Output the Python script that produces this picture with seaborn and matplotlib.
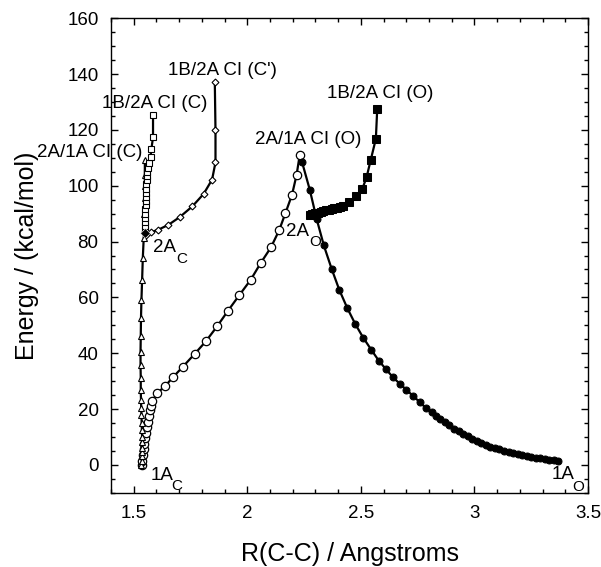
import numpy as np
import pandas as pd
import seaborn as sns
import matplotlib.pyplot as plt
from matplotlib.ticker import MultipleLocator

# 1A_C -> 2A/1A CI (C), open triangles
tri_x = [1.534, 1.535, 1.536, 1.536, 1.537, 1.537, 1.537, 1.536, 1.535, 1.534, 1.533, 1.532,
         1.531, 1.531, 1.530, 1.530, 1.531, 1.532, 1.534, 1.537, 1.540, 1.544, 1.546, 1.547,
         1.548, 1.549, 1.549, 1.549]
tri_y = [0, 1.5, 3, 4.5, 6, 8, 10, 12.5, 15, 17.9, 20.5, 23.3,
         26.9, 31.1, 35.8, 40.6, 46, 52.6, 59.1, 66.3, 74.1, 81.2, 84.2, 90,
         95.6, 100, 104, 109.3]

# 2A_C -> 1B/2A CI (C), open squares
sq_x = [1.548, 1.549, 1.550, 1.550, 1.551, 1.551, 1.552, 1.553, 1.553, 1.554, 1.555, 1.556,
        1.557, 1.558, 1.560, 1.562, 1.566, 1.574, 1.578, 1.585, 1.585]
sq_y = [84, 85.5, 87, 88.5, 90, 91.5, 93, 94.5, 96, 97.5, 99, 100.5,
        102, 103.5, 105, 106.5, 108, 110.3, 113.3, 117.4, 125.4]

# 2A_C -> 1B/2A CI (C'), small open diamonds
dia_x = [1.548, 1.556, 1.578, 1.607, 1.653, 1.703, 1.758, 1.808, 1.845, 1.860, 1.860, 1.857]
dia_y = [83, 82.4, 83.4, 84.2, 86.0, 88.8, 92.6, 97.1, 102.2, 108.4, 119.8, 137.0]

# 1A_C -> 2A/1A CI (O), open circles
oc_x = [1.535, 1.538, 1.541, 1.544, 1.547, 1.550, 1.553, 1.557, 1.561, 1.566, 1.571, 1.576,
        1.581, 1.603, 1.637, 1.673, 1.717, 1.769, 1.817, 1.867, 1.915, 1.964, 2.015, 2.059,
        2.104, 2.140, 2.168, 2.197, 2.217, 2.231]
oc_y = [0, 1.5, 3.5, 5.5, 7.5, 9.5, 11.5, 13.5, 15.5, 17.5, 19.5, 21.2,
        22.7, 25.7, 28.1, 31.4, 35.2, 39.8, 44.2, 49.6, 55.2, 60.7, 66.3, 72.3,
        77.9, 84.0, 90.2, 96.8, 103.9, 111.1]

# 2A/1A CI (O) -> 1A_O, filled circles
fc_x = [2.241, 2.275, 2.305, 2.337, 2.371, 2.405, 2.440, 2.475, 2.510, 2.546, 2.579, 2.610,
        2.642, 2.672, 2.700, 2.731, 2.760, 2.786, 2.811, 2.83, 2.85, 2.87, 2.89, 2.91,
        2.93, 2.95, 2.97, 2.99, 3.01, 3.03, 3.05, 3.07, 3.09, 3.11, 3.13, 3.15,
        3.17, 3.19, 3.21, 3.23, 3.25, 3.27, 3.29, 3.31, 3.33, 3.35, 3.37]
fc_y = [108.5, 98.6, 88.2, 78.6, 70.3, 62.7, 56.2, 50.5, 45.6, 41.2, 37.3, 34.3,
        31.3, 29.0, 26.9, 24.6, 22.4, 20.4, 18.8, 17.5, 16.4, 15.3, 14.1, 13.0,
        12.0, 11.1, 10.2, 9.4, 8.6, 7.9, 7.2, 6.5, 6.0, 5.5, 5.0, 4.6,
        4.2, 3.8, 3.5, 3.2, 2.9, 2.6, 2.4, 2.1, 1.9, 1.7, 1.5]

# 2A_O -> 1B/2A CI (O), filled squares
fs_x = [2.275, 2.287, 2.299, 2.311, 2.323, 2.335, 2.347, 2.359, 2.371, 2.383, 2.395, 2.408,
        2.421, 2.449, 2.478, 2.506, 2.525, 2.543, 2.566, 2.572]
fs_y = [89.6, 89.9, 90.1, 90.4, 90.6, 90.9, 91.2, 91.4, 91.7, 92.0, 92.2, 92.5,
        92.8, 94.0, 96.2, 98.8, 103.0, 109.1, 116.8, 127.5]

sns.set_style("ticks")
plt.rcParams['font.family'] = ['Liberation Sans', 'DejaVu Sans']
plt.rcParams['text.color'] = 'black'
plt.rcParams['axes.labelcolor'] = 'black'
plt.rcParams['xtick.color'] = 'black'
plt.rcParams['ytick.color'] = 'black'

fig = plt.figure(figsize=(6.01, 5.67), dpi=100)
ax = fig.add_axes([0.1847, 0.131, 0.7937, 0.8367])

lw = 1.6
sns.lineplot(x=oc_x, y=oc_y, sort=False, estimator=None, ax=ax, color='black', lw=lw,
             marker='o', markersize=6, markerfacecolor='white', markeredgecolor='black', markeredgewidth=0.9)
sns.lineplot(x=tri_x, y=tri_y, sort=False, estimator=None, ax=ax, color='black', lw=lw,
             marker='^', markersize=5, markerfacecolor='white', markeredgecolor='black', markeredgewidth=0.8)
sns.lineplot(x=sq_x, y=sq_y, sort=False, estimator=None, ax=ax, color='black', lw=lw,
             marker='s', markersize=5, markerfacecolor='white', markeredgecolor='black', markeredgewidth=0.8)
sns.lineplot(x=dia_x, y=dia_y, sort=False, estimator=None, ax=ax, color='black', lw=lw,
             marker='D', markersize=3.5, markerfacecolor='white', markeredgecolor='black', markeredgewidth=0.8)
sns.lineplot(x=fc_x, y=fc_y, sort=False, estimator=None, ax=ax, color='black', lw=lw,
             marker='o', markersize=5, markerfacecolor='black', markeredgecolor='black')
sns.lineplot(x=fs_x, y=fs_y, sort=False, estimator=None, ax=ax, color='black', lw=lw,
             marker='s', markersize=6, markerfacecolor='black', markeredgecolor='black')
# filled marker at the 2A_C minimum
sns.scatterplot(x=[1.549], y=[83], ax=ax, color='black', marker='D', s=25, zorder=5)

ax.set_xlim(1.4, 3.5)
ax.set_ylim(-10, 160)
ax.set_xticks([1.5, 2, 2.5, 3, 3.5])
ax.set_xticklabels(['1.5', '2', '2.5', '3', '3.5'])
ax.xaxis.set_minor_locator(MultipleLocator(0.1))
ax.yaxis.set_major_locator(MultipleLocator(20))
ax.yaxis.set_minor_locator(MultipleLocator(5))
ax.tick_params(which='both', top=True, right=True, bottom=True, left=True,
               direction='in', color='black', width=1.0)
ax.tick_params(which='major', length=5, labelsize=13.5, pad=9)
ax.tick_params(which='minor', length=3)
for s in ax.spines.values():
    s.set_color('black')
    s.set_linewidth(1.0)

ax.set_xlabel('R(C-C) / Angstroms', fontsize=18, labelpad=14)
ax.set_ylabel('Energy / (kcal/mol)', fontsize=18, labelpad=20)

fs = 13.5
ax.text(1.892, 141.3, "1B/2A CI (C')", fontsize=fs, ha='center', va='center')
ax.text(1.592, 129.6, "1B/2A CI (C)", fontsize=fs, ha='center', va='center')
ax.text(1.306, 111.8, "2A/1A CI (C)", fontsize=fs, ha='center', va='center', clip_on=False)
ax.text(2.269, 116.5, "2A/1A CI (O)", fontsize=fs, ha='center', va='center')
ax.text(2.586, 133.0, "1B/2A CI (O)", fontsize=fs, ha='center', va='center')

sub = 11
ax.text(2.222, 83.6, "2A", fontsize=fs, ha='center', va='center')
ax.text(2.297, 80.0, "O", fontsize=sub, ha='center', va='center')
ax.text(1.637, 77.7, "2A", fontsize=fs, ha='center', va='center')
ax.text(1.710, 73.7, "C", fontsize=sub, ha='center', va='center')
ax.text(1.624, -3.9, "1A", fontsize=fs, ha='center', va='center')
ax.text(1.688, -7.5, "C", fontsize=sub, ha='center', va='center')
ax.text(3.389, -3.6, "1A", fontsize=fs, ha='center', va='center')
ax.text(3.457, -8.0, "O", fontsize=sub, ha='center', va='center')

fig.savefig('out.png', dpi=100)
